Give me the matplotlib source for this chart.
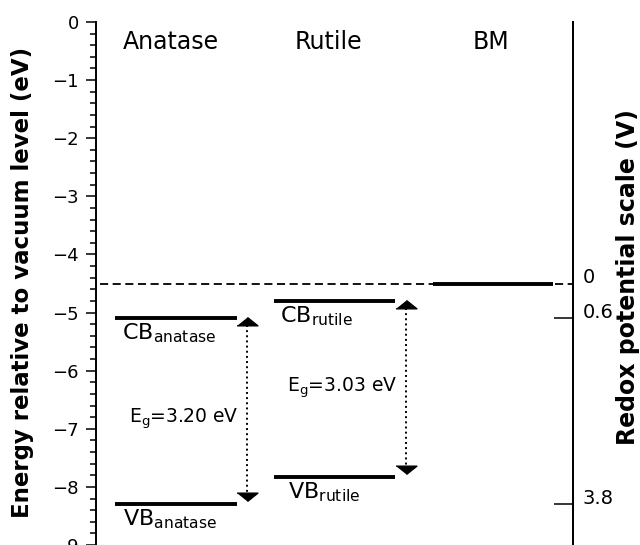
import matplotlib
matplotlib.use("Agg")
import matplotlib.pyplot as plt
from matplotlib.ticker import MultipleLocator, FixedLocator
from matplotlib.transforms import ScaledTranslation

# ---- data ----
materials = ["Anatase", "Rutile", "BM"]
cb_levels = [-5.10, -4.80]          # conduction band (eV)
vb_levels = [-8.30, -7.83]          # valence band (eV)
bm_level = -4.50                    # BM level (eV)
gap_labels = [r"E$_{\rm g}$=3.20 eV", r"E$_{\rm g}$=3.03 eV"]
cb_labels = [r"CB$_{\rm anatase}$", r"CB$_{\rm rutile}$"]
vb_labels = [r"VB$_{\rm anatase}$", r"VB$_{\rm rutile}$"]
redox_ticks = [0, 0.6, 3.8]
redox_labels = ["0", "0.6", "3.8"]
vacuum_ref = -4.5                   # 0 V on redox scale

# ---- layout (x in arbitrary units 0..10) ----
band_x = [(0.40, 2.96), (3.73, 6.27)]
bm_x = (7.06, 9.58)
title_x = [1.58, 4.87, 8.27]
arrow_x = [3.17, 6.50]
cb_text_x = [0.55, 3.85]
vb_text_x = [0.57, 4.02]
gap_text = [(2.99, -6.83), (6.33, -6.30)]

fig = plt.figure(figsize=(6.4, 5.45), dpi=100)
ax = fig.add_axes([96/640, 0.0, 477/640, 523/545])
ax.set_xlim(0, 10)
ax.set_ylim(-9.0, 0)

for s in ["top", "bottom"]:
    ax.spines[s].set_visible(False)
ax.spines["left"].set_linewidth(1.4)
ax.spines["right"].set_linewidth(1.4)
ax.set_xticks([])
ax.yaxis.set_major_locator(MultipleLocator(1))
ax.yaxis.set_minor_locator(MultipleLocator(0.2))
ax.tick_params(axis="y", which="major", length=7.5, width=1.1, labelsize=13, pad=5)
ax.tick_params(axis="y", which="minor", length=4.5, width=1.1)
ax.set_ylabel("Energy relative to vacuum level (eV)", fontsize=16.5, fontweight="bold")
ax.yaxis.set_label_coords(-0.129, (545-282)/523)

# vacuum/ reference dashed line
ax.plot([0.08, 10], [vacuum_ref, vacuum_ref], ls="--", color="black", lw=1.3, dashes=(4.5, 2.5))

# titles
for t, x in zip(materials, title_x):
    ax.text(x, -0.35, t, ha="center", va="center", fontsize=17)

lw_band = 2.8
# bands
for i in range(2):
    ax.plot(band_x[i], [cb_levels[i]]*2, color="black", lw=lw_band, solid_capstyle="butt")
    ax.plot(band_x[i], [vb_levels[i]]*2, color="black", lw=lw_band, solid_capstyle="butt")
    ax.text(cb_text_x[i], cb_levels[i] - 0.06, cb_labels[i], ha="left", va="top", fontsize=16)
    ax.text(vb_text_x[i], vb_levels[i] - 0.06, vb_labels[i], ha="left", va="top", fontsize=16)
    # arrows
    ax.plot([arrow_x[i]]*2, [cb_levels[i] - 0.12, vb_levels[i] + 0.12], ls=":", color="black", lw=1.4)
    up = [(-1, -0.8), (1, -0.8), (0, 0)]
    dn = [(-1, 0.8), (1, 0.8), (0, 0)]
    ax.plot([arrow_x[i]], [cb_levels[i] + 0.02], marker=up, ms=15, color="black", ls="none")
    ax.plot([arrow_x[i]], [vb_levels[i] + 0.05], marker=dn, ms=15, color="black", ls="none")
    ax.text(gap_text[i][0], gap_text[i][1], gap_labels[i], ha="right", va="center", fontsize=13.5)

# BM line
ax.plot(bm_x, [bm_level]*2, color="black", lw=lw_band, solid_capstyle="butt")

# right redox axis
ax2 = ax.twinx()
ax2.set_ylim(-(-9.0 - vacuum_ref), -(0 - vacuum_ref))
for s in ["top", "bottom", "left"]:
    ax2.spines[s].set_visible(False)
ax2.spines["right"].set_linewidth(1.4)
ax2.yaxis.set_major_locator(FixedLocator(redox_ticks))
ax2.set_yticklabels(redox_labels)
ax2.tick_params(axis="y", which="major", direction="in", length=14, width=1.1, labelsize=14, pad=7)
ax2.yaxis.get_major_ticks()[0].tick2line.set_visible(False)
off = ScaledTranslation(0, 8/100, fig.dpi_scale_trans)
for lbl in ax2.get_yticklabels():
    lbl.set_transform(lbl.get_transform() + off)
ax2.set_ylabel("Redox potential scale (V)", fontsize=17, fontweight="bold")
ax2.yaxis.set_label_coords(1.091, (545-277)/523)

fig.savefig("out.png", dpi=100)
